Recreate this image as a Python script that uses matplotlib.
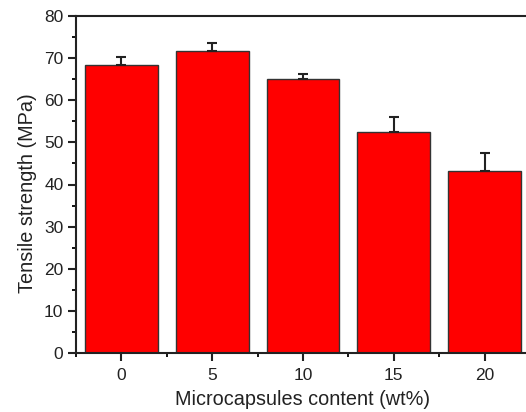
import matplotlib
matplotlib.use("Agg")
import matplotlib.pyplot as plt
from matplotlib.ticker import MultipleLocator

plt.rcParams['font.family'] = ['Liberation Sans', 'DejaVu Sans']

content = [0, 5, 10, 15, 20]
strength = [68.4, 71.8, 65.1, 52.4, 43.3]
err_up = [1.8, 1.7, 1.2, 3.7, 4.2]

fig = plt.figure(figsize=(5.26, 4.12), dpi=100)
ax = fig.add_axes([76/526, 1-353/412, 454/526, 337/412])

ax.bar(content, strength, width=4, color='#ff0000', edgecolor='#333333', linewidth=1.0, zorder=2)
ax.errorbar(content, strength, yerr=[[0]*len(err_up), err_up], fmt='none',
            ecolor='#222222', elinewidth=1.5, capsize=3.5, capthick=1.5, zorder=3)

ax.set_xlim(-2.5, 22.5)
ax.set_ylim(0, 80)
ax.set_xticks(content)
ax.xaxis.set_minor_locator(MultipleLocator(2.5))
ax.yaxis.set_major_locator(MultipleLocator(10))
ax.yaxis.set_minor_locator(MultipleLocator(5))

ax.tick_params(axis='both', which='major', direction='out', length=6, width=1.5, labelsize=12.5, colors='#222222')
ax.tick_params(axis='both', which='minor', direction='out', length=3.2, width=1.3)
ax.tick_params(axis='x', which='both', top=False)
ax.tick_params(axis='y', which='both', right=False)
ax.tick_params(axis='y', which='major', pad=3)
ax.tick_params(axis='x', which='major', pad=5)

for s in ['left', 'bottom', 'top']:
    ax.spines[s].set_linewidth(1.5)
    ax.spines[s].set_color('#222222')
ax.spines['right'].set_visible(False)

ax.set_xlabel('Microcapsules content (wt%)', fontsize=14.3, color='#222222', labelpad=5)
ax.set_ylabel('Tensile strength (MPa)', fontsize=14.3, color='#222222', labelpad=5)
ax.yaxis.label.set_y(0.473)

fig.savefig('out.png', dpi=100)
